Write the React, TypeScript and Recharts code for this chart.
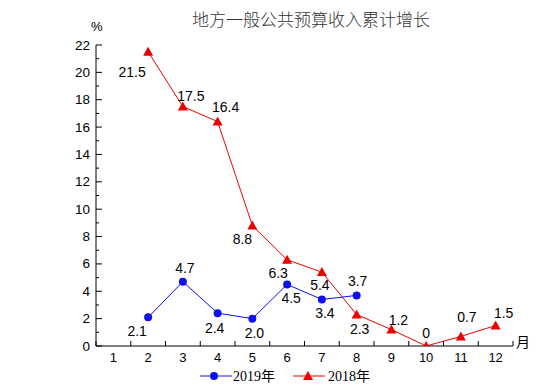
import { LineChart, Line, XAxis, YAxis, LabelList } from 'recharts';

const months = [1, 2, 3, 4, 5, 6, 7, 8, 9, 10, 11, 12];
const growth2019 = [null, 2.1, 4.7, 2.4, 2.0, 4.5, 3.4, 3.7, null, null, null, null];
const growth2018 = [null, 21.5, 17.5, 16.4, 8.8, 6.3, 5.4, 2.3, 1.2, 0, 0.7, 1.5];
const yTickLabels = [0, 2, 4, 6, 8, 10, 12, 14, 16, 18, 20, 22];

const data = months.map((m, i) => ({ month: m, y2019: growth2019[i], y2018: growth2018[i] }));

// minor ticks at odd values, boundary ticks between months
const yTicks = yTickLabels.flatMap((v) => (v < 22 ? [v, v + 1] : [v]));
const xTicks = months.flatMap((m) => [m - 0.5, m]).concat(months[months.length - 1] + 0.5);

const BLUE = '#1010ee';
const RED = '#ee0000';
const numFont = '"Liberation Sans", Arial, sans-serif';

// label offset from the point, by month
const offset2019: Record<number, [number, number]> = {
  2: [-11, 14], 3: [2, -14], 4: [-3, 15], 5: [2, 14], 6: [4, 14], 7: [3, 14], 8: [1, -14],
};
const offset2018: Record<number, [number, number]> = {
  2: [-16, 20], 3: [8, -11], 4: [8, -15], 5: [-10, 13], 6: [-9, 13], 7: [-2, 13],
  8: [3, 14], 9: [7, -10], 10: [0, -13], 11: [6, -19], 12: [8, -12],
};

const fmt = (v: number) => (v === 0 ? '0' : v.toFixed(1));

const makeLabel = (offsets: Record<number, [number, number]>) => (props: any) => {
  const { x, y, value, index } = props;
  if (value === null || value === undefined || x == null || y == null) return null;
  const o = offsets[months[index]] || [0, -12];
  return (
    <text
      x={x + o[0]}
      y={y + o[1]}
      textAnchor="middle"
      dominantBaseline="central"
      fontFamily={numFont}
      fontSize={14}
      fill="#000"
    >
      {fmt(Number(value))}
    </text>
  );
};

const CircleDot = (props: any) => {
  const { cx, cy, index } = props;
  if (cx == null || cy == null || props.value == null) return <g key={'c' + index} />;
  return <circle key={'c' + index} cx={cx} cy={cy} r={4} fill={BLUE} />;
};

const TriangleDot = (props: any) => {
  const { cx, cy, index } = props;
  if (cx == null || cy == null || props.value == null) return <g key={'t' + index} />;
  return (
    <path key={'t' + index} d={`M${cx},${cy - 5}L${cx + 5},${cy + 4}L${cx - 5},${cy + 4}Z`} fill={RED} />
  );
};

const XTick = (props: any) => {
  const { x, y, payload } = props;
  const v = payload.value;
  if (Number.isInteger(v)) {
    return (
      <text x={x} y={y + 16} textAnchor="middle" fontFamily={numFont} fontSize={13} fill="#000">
        {v}
      </text>
    );
  }
  return <line x1={x} y1={y} x2={x} y2={y - 5} stroke="#000" />;
};

const YTick = (props: any) => {
  const { x, y, payload } = props;
  const v = payload.value;
  if (v % 2 === 0) {
    return (
      <g>
        <line x1={x} y1={y} x2={x + 6} y2={y} stroke="#000" />
        <text x={x - 6} y={y} textAnchor="end" dominantBaseline="central" fontFamily={numFont} fontSize={13.5} fill="#000">
          {v}
        </text>
      </g>
    );
  }
  return <line x1={x} y1={y} x2={x + 3} y2={y} stroke="#000" />;
};

export default function App() {
  return (
    <div style={{ position: 'absolute', left: 0, top: 0, width: 554, height: 392, background: '#fff' }}>
      <div
        style={{
          position: 'absolute', left: 0, width: 622, top: 6, textAlign: 'center',
          fontFamily: '"Noto Sans CJK SC", sans-serif', fontSize: 17, color: '#333',
          fontWeight: 300,
        }}
      >
        地方一般公共预算收入累计增长
      </div>
      <div style={{ position: 'absolute', left: 91, top: 19, fontFamily: numFont, fontSize: 13 }}>%</div>
      <div style={{ position: 'absolute', left: 516, top: 331, fontFamily: '"Noto Sans CJK SC", sans-serif', fontSize: 14 }}>
        月
      </div>
      <LineChart width={554} height={392} data={data} margin={{ top: 45, right: 41, left: 56, bottom: 16 }}>
        <XAxis
          dataKey="month"
          type="number"
          domain={[0.5, 12.5]}
          ticks={xTicks}
          interval={0}
          tickSize={0}
          tickMargin={0}
          tickLine={false}
          tick={<XTick />}
          height={30}
          axisLine={{ stroke: '#000' }}
          allowDataOverflow
        />
        <YAxis
          type="number"
          domain={[0, 22]}
          ticks={yTicks}
          interval={0}
          tickSize={0}
          tickMargin={0}
          tickLine={false}
          tick={<YTick />}
          width={40}
          axisLine={{ stroke: '#000' }}
          allowDataOverflow
        />
        <Line
          dataKey="y2018"
          type="linear"
          stroke={RED}
          strokeWidth={1}
          dot={TriangleDot}
          activeDot={false}
          isAnimationActive={false}
        >
          <LabelList dataKey="y2018" content={makeLabel(offset2018)} />
        </Line>
        <Line
          dataKey="y2019"
          type="linear"
          stroke={BLUE}
          strokeWidth={1}
          dot={CircleDot}
          activeDot={false}
          isAnimationActive={false}
        >
          <LabelList dataKey="y2019" content={makeLabel(offset2019)} />
        </Line>
      </LineChart>
      <svg style={{ position: 'absolute', left: 195, top: 366 }} width={190} height={20}>
        <line x1={5} y1={10} x2={37} y2={10} stroke={BLUE} />
        <circle cx={19} cy={10} r={4} fill={BLUE} />
        <text x={38} y={15} fontFamily='"Liberation Serif", "Noto Sans CJK SC", serif' fontSize={14} fill="#000">
          2019年
        </text>
        <line x1={98} y1={10} x2={130} y2={10} stroke={RED} />
        <path d="M113,5L118,14L108,14Z" fill={RED} />
        <text x={133} y={15} fontFamily='"Liberation Serif", "Noto Sans CJK SC", serif' fontSize={14} fill="#000">
          2018年
        </text>
      </svg>
    </div>
  );
}
